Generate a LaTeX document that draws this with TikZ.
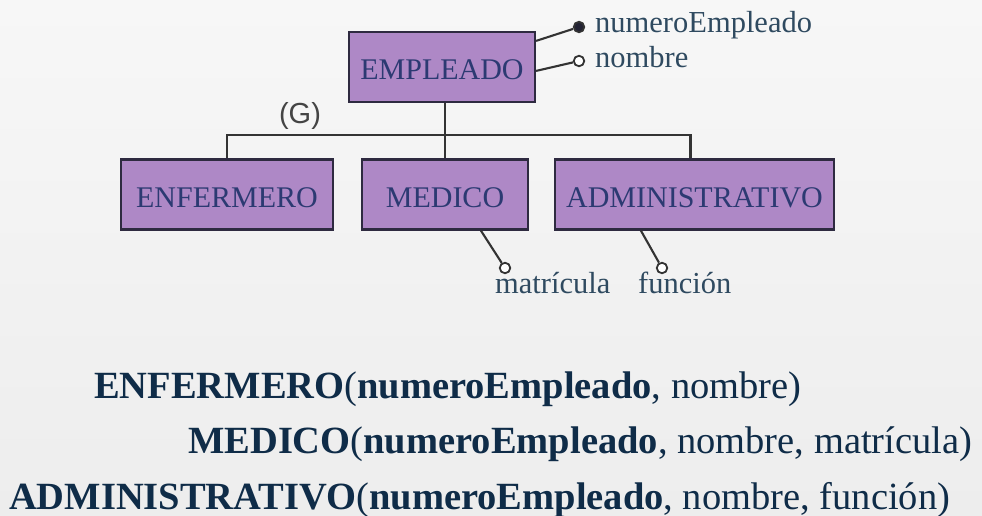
\documentclass[tikz,border=0pt]{standalone}
\usepackage{fontspec}
\setmainfont{Liberation Serif}
\newfontfamily\gfont{Liberation Sans}
\usetikzlibrary{calc}
\definecolor{boxfill}{HTML}{AE88C6}
\definecolor{boxtext}{HTML}{2C3A72}
\definecolor{boxline}{HTML}{2E2A40}
\definecolor{attrtext}{HTML}{2F4A60}
\definecolor{reltext}{HTML}{0F2C48}
\definecolor{linegray}{HTML}{333333}
\definecolor{keyfill}{HTML}{222233}
\definecolor{ggray}{HTML}{444444}
\definecolor{bgtop}{HTML}{F7F7F7}
\definecolor{bgbot}{HTML}{EDEDED}
\begin{document}
\begin{tikzpicture}[x=1pt,y=-1pt,
  entity/.style={draw=boxline, line width=2.2pt, fill=boxfill, text=boxtext,
    font=\fontsize{30}{36}\selectfont, text height=26pt, text depth=0pt,
    inner sep=0pt, minimum height=70pt},
  attr/.style={circle, draw=linegray, line width=1.8pt, fill=white, inner sep=0pt, minimum size=10.5pt},
  key/.style={attr, fill=keyfill},
  conn/.style={draw=linegray, line width=2.1pt},
  lab/.style={anchor=base west, inner sep=0pt, text=attrtext, font=\fontsize{30.5}{36}\selectfont},
  rel/.style={anchor=base west, inner sep=0pt, text=reltext, font=\fontsize{38.5}{44}\selectfont}]
\shade[top color=bgtop, bottom color=bgbot] (0,0) rectangle (982,516);
\useasboundingbox (0,0) rectangle (982,516);

\node[entity, minimum width=186pt] (emp) at (442,67) {EMPLEADO};
\node[entity, minimum width=212pt] (enf) at (227,194.5) {ENFERMERO};
\node[entity, minimum width=166pt] (med) at (445,194.5) {MEDICO};
\node[entity, minimum width=279pt] (adm) at (694.5,194.5) {ADMINISTRATIVO};

\draw[conn] (med.north) -- (med.north |- emp.south);
\draw[conn] (enf.north) -- ++(0,-23) -| ($(adm.north)+(-4,0)$);
\node[font=\gfont\fontsize{29}{34}\selectfont, text=ggray, inner sep=0pt] (g) at (300,116) {(G)};

\node[key] (a1) at (579,27) {};
\node[attr] (a2) at (579,61) {};
\draw[conn] ($(emp.north east)+(0,10)$) -- (a1);
\draw[conn] ($(emp.north east)+(0,40)$) -- (a2);
\node[lab] (l1) at (595,33) {numeroEmpleado};
\node[lab] (l2) at (595,68) {nombre};

\node[attr] (a3) at (505,268) {};
\draw[conn] ($(med.south west)+(120,0)$) -- (a3);
\node[lab] (l3) at (495,293) {matrícula};
\node[attr] (a4) at (662,268) {};
\draw[conn] ($(adm.south west)+(87,0)$) -- (a4);
\node[lab] (l4) at (638,293) {función};

\node[rel] (r1) at (94,398) {\textbf{ENFERMERO}(\textbf{numeroEmpleado}, nombre)};
\node[rel] (r2) at (188,453) {\textbf{MEDICO}(\textbf{numeroEmpleado}, nombre, matrícula)};
\node[rel] (r3) at (9,509) {\textbf{ADMINISTRATIVO}(\textbf{numeroEmpleado}, nombre, función)};
\end{tikzpicture}
\end{document}
